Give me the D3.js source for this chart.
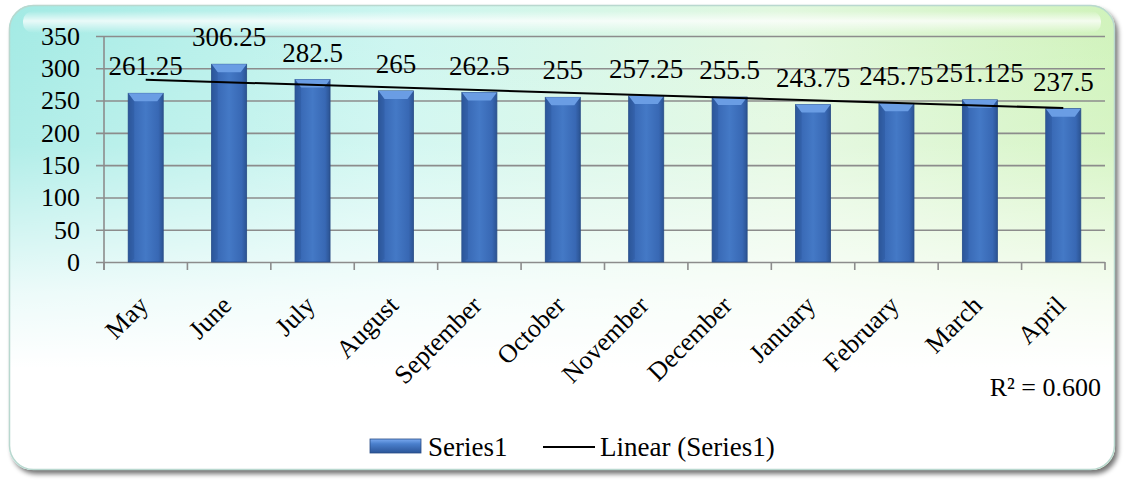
<!DOCTYPE html>
<html>
<head>
<meta charset="utf-8">
<script src="https://cdn.jsdelivr.net/npm/d3@7"></script>
<style>
  html, body { margin: 0; padding: 0; background: #ffffff; }
  svg { display: block; }
  text { font-family: "Liberation Serif", "Times New Roman", serif; fill: #000; }
</style>
</head>
<body>
<svg id="chart" width="1126" height="481"></svg>
<script>
// Monthly values (Series1)
const months = ["May", "June", "July", "August", "September", "October",
                "November", "December", "January", "February", "March", "April"];
const values = [261.25, 306.25, 282.5, 265, 262.5, 255, 257.25, 255.5,
                243.75, 245.75, 251.125, 237.5];
const yTicks = [0, 50, 100, 150, 200, 250, 300, 350];
const seriesName = "Series1";
const trendName = "Linear (Series1)";
const r2Label = "R² = 0.600";

const W = 1126, H = 481;
const margin = { left: 104, right: 21 };
const svg = d3.select("#chart");
const defs = svg.append("defs");

// ---------- background panel ----------
const bgH = defs.append("linearGradient").attr("id", "bgH").attr("x1", 0).attr("x2", 1).attr("y1", 0).attr("y2", 0);
bgH.append("stop").attr("offset", "0%").attr("stop-color", "#a2eae4");
bgH.append("stop").attr("offset", "35%").attr("stop-color", "#ccf6f0");
bgH.append("stop").attr("offset", "70%").attr("stop-color", "#e2f8df");
bgH.append("stop").attr("offset", "100%").attr("stop-color", "#d0f3bb");

const bgV = defs.append("linearGradient").attr("id", "bgV").attr("x1", 0).attr("x2", 0).attr("y1", 0).attr("y2", 1);
bgV.append("stop").attr("offset", "0%").attr("stop-color", "#fff").attr("stop-opacity", 0);
bgV.append("stop").attr("offset", "30%").attr("stop-color", "#fff").attr("stop-opacity", 0.15);
bgV.append("stop").attr("offset", "62%").attr("stop-color", "#fff").attr("stop-opacity", 0.8);
bgV.append("stop").attr("offset", "78%").attr("stop-color", "#fff").attr("stop-opacity", 1);
bgV.append("stop").attr("offset", "100%").attr("stop-color", "#fff").attr("stop-opacity", 1);

const gloss = defs.append("linearGradient").attr("id", "gloss").attr("x1", 0).attr("x2", 0).attr("y1", 0).attr("y2", 1);
gloss.append("stop").attr("offset", "0%").attr("stop-color", "#fff").attr("stop-opacity", 0.0);
gloss.append("stop").attr("offset", "45%").attr("stop-color", "#fff").attr("stop-opacity", 0.75);
gloss.append("stop").attr("offset", "100%").attr("stop-color", "#fff").attr("stop-opacity", 0.0);

const shadow = defs.append("filter").attr("id", "shadow").attr("x", "-5%").attr("y", "-5%").attr("width", "110%").attr("height", "115%");
shadow.append("feGaussianBlur").attr("in", "SourceAlpha").attr("stdDeviation", 2.5);
shadow.append("feOffset").attr("dx", 3).attr("dy", 4).attr("result", "ob");
shadow.append("feComponentTransfer").append("feFuncA").attr("type", "linear").attr("slope", 0.55);
const sm = shadow.append("feMerge");
sm.append("feMergeNode");
sm.append("feMergeNode").attr("in", "SourceGraphic");

const panel = { x: 9, y: 5, w: 1106, h: 465, r: 24 };
svg.append("rect").attr("x", panel.x).attr("y", panel.y).attr("width", panel.w).attr("height", panel.h)
   .attr("rx", panel.r).attr("fill", "url(#bgH)").attr("filter", "url(#shadow)");
svg.append("rect").attr("x", panel.x).attr("y", panel.y).attr("width", panel.w).attr("height", panel.h)
   .attr("rx", panel.r).attr("fill", "url(#bgV)");
svg.append("rect").attr("x", panel.x + 14).attr("y", panel.y + 6).attr("width", panel.w - 28).attr("height", 22)
   .attr("rx", 10).attr("fill", "url(#gloss)");
svg.append("rect").attr("x", panel.x + 0.5).attr("y", panel.y + 0.5).attr("width", panel.w - 1).attr("height", panel.h - 1)
   .attr("rx", panel.r).attr("fill", "none").attr("stroke", "#b9d8cf").attr("stroke-width", 1.5);

// ---------- scales ----------
const x = d3.scaleBand().domain(months)
  .range([margin.left, W - margin.right])
  .paddingInner(0.58).paddingOuter(0.29);
const y = d3.scaleLinear().domain([0, 350]).range([262, 36]);

const step = x.step();
const x0 = margin.left, x1 = W - margin.right;

// ---------- gridlines & y axis ----------
const yAxis = d3.axisLeft(y).tickValues(yTicks).tickSize(-(x1 - x0) - 8).tickPadding(16).tickFormat(d3.format("d"));
const gy = svg.append("g").attr("transform", `translate(${x0 - 8},0)`).call(yAxis);
gy.attr("font-family", null).attr("font-size", null);
gy.select(".domain").remove();
gy.selectAll(".tick line").attr("stroke", "#8c8c8c").attr("stroke-width", 1.6);
gy.selectAll(".tick text").style("font-size", "26px");
svg.append("line").attr("x1", x0).attr("x2", x0).attr("y1", y(350)).attr("y2", y(0) + 8)
   .attr("stroke", "#8c8c8c").attr("stroke-width", 1.6);

// category tick marks at band boundaries
const bounds = d3.range(months.length + 1).map(i => x0 + i * step);
svg.append("g").selectAll("line").data(bounds).join("line")
  .attr("x1", d => d).attr("x2", d => d).attr("y1", y(0)).attr("y2", y(0) + 8)
  .attr("stroke", "#8c8c8c").attr("stroke-width", 1.6);

// ---------- bars ----------
const barG = defs.append("linearGradient").attr("id", "barG").attr("x1", 0).attr("x2", 1).attr("y1", 0).attr("y2", 0);
barG.append("stop").attr("offset", "0%").attr("stop-color", "#2b5392");
barG.append("stop").attr("offset", "14%").attr("stop-color", "#3868b4");
barG.append("stop").attr("offset", "50%").attr("stop-color", "#4479c6");
barG.append("stop").attr("offset", "86%").attr("stop-color", "#3868b4");
barG.append("stop").attr("offset", "100%").attr("stop-color", "#2b5392");

const bw = x.bandwidth();
const bev = 6;
const barData = months.map((m, i) => ({ m, v: values[i] }));
const bars = svg.append("g").selectAll("g").data(barData).join("g");
bars.append("rect")
  .attr("x", d => x(d.m)).attr("y", d => y(d.v))
  .attr("width", bw).attr("height", d => y(0) - y(d.v))
  .attr("fill", "url(#barG)").attr("stroke", "#2a4d86").attr("stroke-width", 0.8);
// bevelled top face
bars.append("path")
  .attr("d", d => {
    const l = x(d.m), r = l + bw, t = y(d.v);
    return `M${l},${t}L${r},${t}L${r - bev},${t + bev + 2}L${l + bev},${t + bev + 2}Z`;
  })
  .attr("fill", "#6a9de4");
bars.append("path")
  .attr("d", d => {
    const l = x(d.m), t = y(d.v);
    return `M${l},${t}L${l + bev},${t + bev + 2}L${l + bev},${y(0) - 3}L${l},${y(0)}Z`;
  })
  .attr("fill", "#2e5a9e").attr("opacity", 0.55);

// ---------- linear trendline ----------
const n = values.length;
const xs = d3.range(1, n + 1);
const mx = d3.mean(xs), my = d3.mean(values);
const slope = d3.sum(xs, (xi, i) => (xi - mx) * (values[i] - my)) / d3.sum(xs, xi => (xi - mx) ** 2);
const icpt = my - slope * mx;
const trend = xs.map((xi, i) => ({ m: months[i], v: icpt + slope * xi }));
const line = d3.line().x(d => x(d.m) + bw / 2).y(d => y(d.v));
svg.append("path").datum([trend[0], trend[n - 1]]).attr("d", line)
  .attr("fill", "none").attr("stroke", "#000").attr("stroke-width", 2);

// ---------- data labels ----------
svg.append("g").selectAll("text").data(barData).join("text")
  .attr("x", d => x(d.m) + bw / 2).attr("y", d => y(d.v) - 18)
  .attr("text-anchor", "middle").style("font-size", "27px")
  .text(d => d.v);

// ---------- category labels ----------
svg.append("g").selectAll("text").data(months).join("text")
  .attr("transform", d => `translate(${x(d) + bw / 2 - 9},${y(0) + 32}) rotate(-45)`)
  .attr("text-anchor", "end").attr("dy", "0.7em").style("font-size", "26px")
  .text(d => d);

// ---------- R² ----------
svg.append("text").attr("x", 1101).attr("y", 396).attr("text-anchor", "end")
  .style("font-size", "26px").text(r2Label);

// ---------- legend ----------
const lg = svg.append("g");
const swG = defs.append("linearGradient").attr("id", "swG").attr("x1", 0).attr("x2", 0).attr("y1", 0).attr("y2", 1);
swG.append("stop").attr("offset", "0%").attr("stop-color", "#7aaaf0");
swG.append("stop").attr("offset", "35%").attr("stop-color", "#4a7fcc");
swG.append("stop").attr("offset", "100%").attr("stop-color", "#2b5598");
lg.append("rect").attr("x", 370).attr("y", 439).attr("width", 51).attr("height", 14)
  .attr("fill", "url(#swG)").attr("stroke", "#2a4d86").attr("stroke-width", 0.8);
lg.append("text").attr("x", 428).attr("y", 456).style("font-size", "27px").text(seriesName);
lg.append("line").attr("x1", 543).attr("x2", 595).attr("y1", 447).attr("y2", 447)
  .attr("stroke", "#000").attr("stroke-width", 2);
lg.append("text").attr("x", 600).attr("y", 456).style("font-size", "27px").text(trendName);
</script>
</body>
</html>
